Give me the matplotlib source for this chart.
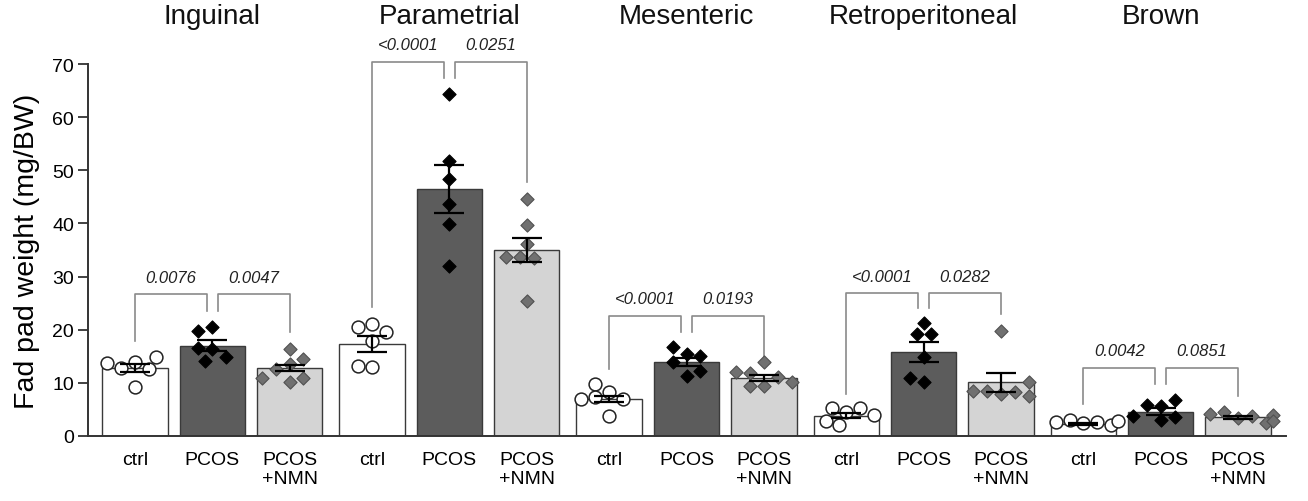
import matplotlib.pyplot as plt
import numpy as np

plt.rcParams['font.family'] = ['Liberation Sans', 'DejaVu Sans']

depots = ['Inguinal', 'Parametrial', 'Mesenteric', 'Retroperitoneal', 'Brown']
groups = ['ctrl', 'PCOS', 'PCOS\n+NMN']

# bar heights (mean) and SEM, one value per depot
mean_ctrl = [12.8, 17.3, 7.0, 3.8, 2.2]
mean_pcos = [17.0, 46.5, 13.9, 15.8, 4.6]
mean_nmn = [12.8, 35.0, 10.9, 10.1, 3.5]
sem_ctrl = [0.8, 1.45, 0.6, 0.5, 0.2]
sem_pcos = [1.05, 4.45, 0.75, 1.8, 0.7]
sem_nmn = [0.65, 2.3, 0.6, 1.8, 0.3]

# individual animals
pts_ctrl = [[13.9, 12.8, 12.7, 14.8, 9.2, 13.7],
            [21.1, 20.5, 17.9, 19.5, 12.9, 13.2],
            [8.3, 9.8, 7.3, 7.0, 3.8, 7.0],
            [4.5, 2.1, 5.2, 5.2, 2.8, 4.0],
            [2.4, 3.0, 2.6, 2.6, 2.1, 2.8]]
pts_pcos = [[20.5, 19.8, 16.4, 14.2, 16.6, 14.8],
            [64.4, 51.8, 48.4, 43.7, 39.9, 32.0],
            [15.4, 16.7, 15.1, 13.9, 11.3, 12.2],
            [21.3, 19.2, 19.2, 14.9, 10.2, 10.9],
            [5.6, 3.0, 5.8, 3.6, 6.8, 3.8]]
pts_nmn = [[13.5, 10.1, 16.4, 12.6, 14.5, 11.0, 11.0],
           [44.6, 39.7, 36.1, 33.7, 33.5, 33.7, 25.4],
           [13.9, 11.9, 9.4, 11.1, 12.0, 9.4, 10.2],
           [19.8, 7.9, 8.5, 8.3, 8.5, 10.1, 7.5],
           [3.4, 4.5, 3.8, 4.1, 2.4, 4.0, 2.8]]

# p values and bracket heights
p_left = ['0.0076', '<0.0001', '<0.0001', '<0.0001', '0.0042']
p_right = ['0.0047', '0.0251', '0.0193', '0.0282', '0.0851']
br_top = [26.7, 70.4, 22.6, 26.9, 12.8]
leg_ctrl = [17.9, 24.3, 12.6, 7.9, 6.0]
leg_pcos = [23.6, 67.4, 19.5, 24.1, 9.8]
leg_nmn = [19.5, 47.8, 15.1, 23.0, 7.5]

fills = ['white', '#5c5c5c', '#d4d4d4']
mk = [dict(marker='o', s=85, c='white', edgecolors='#222222', linewidths=1.1),
      dict(marker='D', s=45, c='black', edgecolors='black', linewidths=0.8),
      dict(marker='D', s=45, c='#707070', edgecolors='#505050', linewidths=0.8)]

GAP = 3.07
PX_X, PX_Y = 77.2, 5.314


def swarm(vals, step=0.09, d=13):
    placed, out = [], []
    for v in vals:
        for k in [0, -1, 1, -2, 2, -3, 3, -4, 4, -5, 5]:
            dx = k * step
            if all(np.hypot((dx - px) * PX_X, (v - pv) * PX_Y) >= d for px, pv in placed):
                break
        placed.append((dx, v))
        out.append(dx)
    return np.array(out)


fig = plt.figure(figsize=(13.08, 5.02), dpi=100)
ax = fig.add_axes([0.0673, 0.1295, 0.9157, 0.741])

means = [mean_ctrl, mean_pcos, mean_nmn]
sems = [sem_ctrl, sem_pcos, sem_nmn]
pts = [pts_ctrl, pts_pcos, pts_nmn]

xt, xl = [], []
for d, name in enumerate(depots):
    base = d * GAP
    for i in range(3):
        x = base + i
        xt.append(x)
        xl.append(groups[i])
        ax.bar(x, means[i][d], width=0.85, color=fills[i], edgecolor='#3a3a3a',
               linewidth=1.0, zorder=2)
        vals = np.array(pts[i][d])
        ax.scatter(x + swarm(vals), vals, zorder=4, clip_on=False, **mk[i])
        ax.errorbar(x, means[i][d], yerr=sems[i][d], fmt='none', ecolor='black',
                    elinewidth=1.6, capsize=11, capthick=1.6, zorder=5)

    # significance brackets
    xc, xp, xn = base, base + 1, base + 2
    o = 0.07
    kw = dict(color='#8a8a8a', lw=1.2, clip_on=False, zorder=1)
    ax.plot([xc, xc, xp - o, xp - o], [leg_ctrl[d], br_top[d], br_top[d], leg_pcos[d]], **kw)
    ax.plot([xp + o, xp + o, xn, xn], [leg_pcos[d], br_top[d], br_top[d], leg_nmn[d]], **kw)
    tkw = dict(ha='center', va='center', fontsize=12, style='italic', color='#222222',
               clip_on=False)
    ax.text((xc + xp - o) / 2, br_top[d] + 3.2, p_left[d], **tkw)
    ax.text((xp + o + xn) / 2, br_top[d] + 3.2, p_right[d], **tkw)

    ax.text(base + 1, 79, name, ha='center', va='center', fontsize=20, color='#111111',
            clip_on=False)

ax.set_xlim(-0.61, 4 * GAP + 2 + 0.62)
ax.set_ylim(0, 70)
ax.set_yticks(range(0, 71, 10))
ax.set_xticks(xt)
ax.set_xticklabels(xl, fontsize=14, linespacing=1.1)
ax.tick_params(axis='x', length=0, pad=11)
ax.tick_params(axis='y', length=7, width=1.3, labelsize=14, color='#333333', pad=3)
ax.set_ylabel('Fad pad weight (mg/BW)', fontsize=20.5, labelpad=9)

for s in ['top', 'right']:
    ax.spines[s].set_visible(False)
for s in ['left', 'bottom']:
    ax.spines[s].set_linewidth(1.4)
    ax.spines[s].set_color('#333333')

plt.savefig('out.png', dpi=100)
plt.close(fig)
